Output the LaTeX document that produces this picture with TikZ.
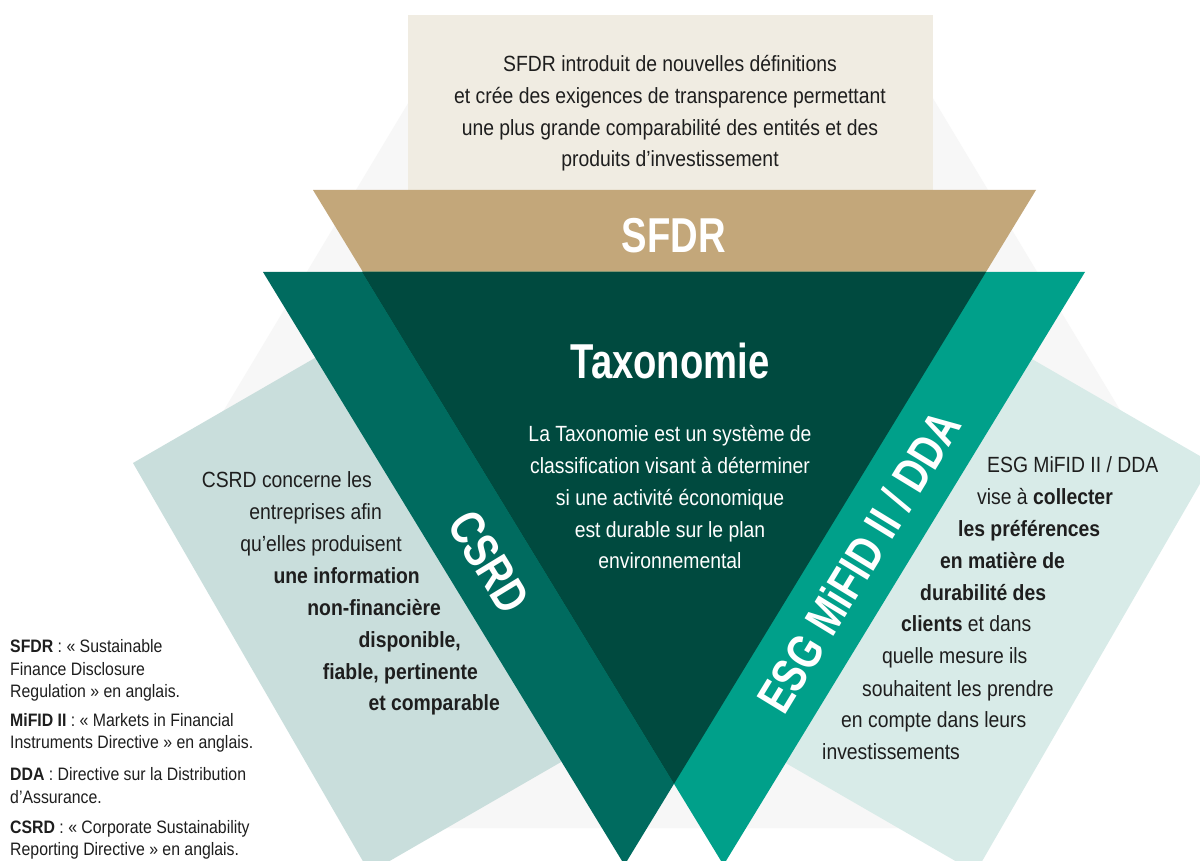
\documentclass[tikz,border=0pt]{standalone}
\usepackage{fontspec}
\setmainfont{Liberation Sans}[FakeStretch=0.88]
\newfontfamily\titlefont{Liberation Sans}[FakeStretch=0.78]
\definecolor{greybg}{HTML}{F7F7F7}
\definecolor{beige}{HTML}{F0ECE2}
\definecolor{tan}{HTML}{C3A77A}
\definecolor{csrdteal}{HTML}{006B5F}
\definecolor{darkteal}{HTML}{004A3F}
\definecolor{esgteal}{HTML}{00A08A}
\definecolor{leftlight}{HTML}{C9DEDC}
\definecolor{rightlight}{HTML}{D8EBE8}
\definecolor{ink}{HTML}{1E1E1E}
\begin{document}
\begin{tikzpicture}[x=1pt,y=-1pt,
  bodytext/.style={font=\fontsize{22}{32}\selectfont, text=ink, inner sep=0pt},
  whitetext/.style={bodytext, text=white},
  legendtext/.style={font=\fontsize{18}{22}\selectfont, text=ink, inner sep=0pt, anchor=base west},
  titletext/.style={font=\titlefont\bfseries\fontsize{49}{50}\selectfont, text=white, inner sep=0pt}]
\useasboundingbox (0,0) rectangle (1200,861);
\fill[white] (0,0) rectangle (1200,861);
% background grey shape
\fill[greybg] (452,30) -- (892,30) -- (1144,450) -- (930,828) -- (418,828) -- (200,450) -- cycle;
% rotated light panels
\fill[leftlight] (133,463) -- (542.6,226.5) -- (779.1,636.1) -- (369.5,872.6) -- cycle;
\fill[rightlight] (1212,463) -- (802.4,226.5) -- (565.9,636.1) -- (975.5,872.6) -- cycle;
% beige box
\fill[beige] (408,15) rectangle (933,190);
% SFDR band
\fill[tan] (313,190) -- (1036,190) -- (986,272) -- (363,272) -- cycle;
% CSRD and ESG triangles
\fill[csrdteal] (263,272) -- (986,272) -- (624.5,865) -- cycle;
\fill[esgteal] (362,272) -- (1085,272) -- (723.5,865) -- cycle;
\fill[darkteal] (362,272) -- (986,272) -- (674,783.8) -- cycle;

% beige text
\node[bodytext, anchor=base] (s1) at (670,72) {SFDR introduit de nouvelles définitions};
\node[bodytext, anchor=base] (s2) at (670,104) {et crée des exigences de transparence permettant};
\node[bodytext, anchor=base] (s3) at (670,136) {une plus grande comparabilité des entités et des};
\node[bodytext, anchor=base] (s4) at (670,167) {produits d’investissement};

% titles
\node[titletext, anchor=base] (sfdr) at (674,253) {SFDR};
\node[titletext, anchor=base] (taxo) at (670,378) {Taxonomie};
\node[titletext, rotate=-58.6] (csrd) at (489,562) {CSRD};
\node[titletext, rotate=58.6] (esg) at (859,562) {ESG MiFID II / DDA};

% taxonomie text
\node[whitetext, anchor=base] (t1) at (670,441) {La Taxonomie est un système de};
\node[whitetext, anchor=base] (t2) at (670,473) {classification visant à déterminer};
\node[whitetext, anchor=base] (t3) at (670,505) {si une activité économique};
\node[whitetext, anchor=base] (t4) at (670,537) {est durable sur le plan};
\node[whitetext, anchor=base] (t5) at (670,568) {environnemental};

% CSRD text
\node[bodytext, anchor=base east] (c1) at (372,487) {CSRD concerne les};
\node[bodytext, anchor=base east] (c2) at (382,519) {entreprises afin};
\node[bodytext, anchor=base east] (c3) at (402,551) {qu’elles produisent};
\node[bodytext, anchor=base east] (c4) at (420,583) {\textbf{une information}};
\node[bodytext, anchor=base east] (c5) at (441,615) {\textbf{non-financière}};
\node[bodytext, anchor=base east] (c6) at (461,647) {\textbf{disponible,}};
\node[bodytext, anchor=base east] (c7) at (478,679) {\textbf{fiable, pertinente}};
\node[bodytext, anchor=base east] (c8) at (500,710) {\textbf{et comparable}};

% ESG text
\node[bodytext, anchor=base west] (e1) at (987,472) {ESG MiFID II / DDA};
\node[bodytext, anchor=base west] (e2) at (977,504) {vise à \textbf{collecter}};
\node[bodytext, anchor=base west] (e3) at (958,536) {\textbf{les préférences}};
\node[bodytext, anchor=base west] (e4) at (940,568) {\textbf{en matière de}};
\node[bodytext, anchor=base west] (e5) at (920,600) {\textbf{durabilité des}};
\node[bodytext, anchor=base west] (e6) at (901,631) {\textbf{clients} et dans};
\node[bodytext, anchor=base west] (e7) at (882,663) {quelle mesure ils};
\node[bodytext, anchor=base west] (e8) at (862,696) {souhaitent les prendre};
\node[bodytext, anchor=base west] (e9) at (841,727) {en compte dans leurs};
\node[bodytext, anchor=base west] (e10) at (822,759) {investissements};

% legend
\node[legendtext] (l1) at (10,652) {\textbf{SFDR} : « Sustainable};
\node[legendtext] (l2) at (10,675) {Finance Disclosure};
\node[legendtext] (l3) at (10,697) {Regulation » en anglais.};
\node[legendtext] (l4) at (10,726) {\textbf{MiFID II} : « Markets in Financial};
\node[legendtext] (l5) at (10,748) {Instruments Directive » en anglais.};
\node[legendtext] (l6) at (10,780) {\textbf{DDA} : Directive sur la Distribution};
\node[legendtext] (l7) at (10,803) {d’Assurance.};
\node[legendtext] (l8) at (10,833) {\textbf{CSRD} : « Corporate Sustainability};
\node[legendtext] (l9) at (10,855) {Reporting Directive » en anglais.};
\end{tikzpicture}
\end{document}
